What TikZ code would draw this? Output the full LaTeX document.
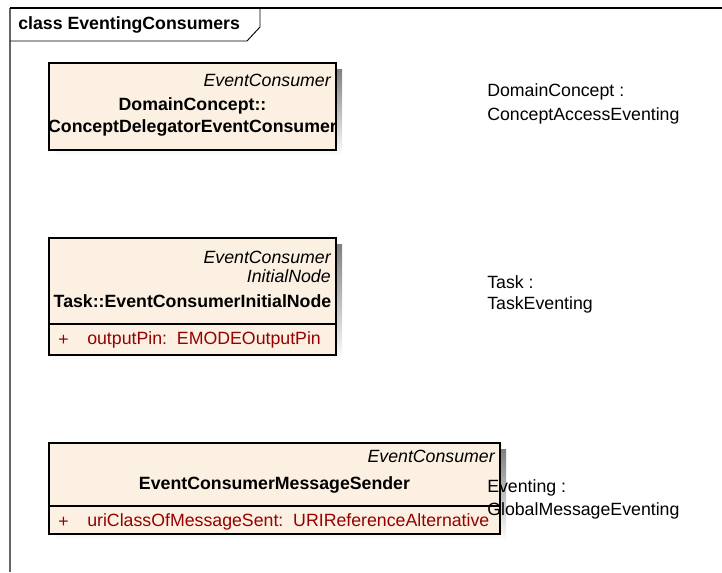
\documentclass[tikz,border=0pt]{standalone}
\usepackage{fontspec}
\setmainfont{Liberation Sans}
\usetikzlibrary{calc}

\definecolor{boxfill}{RGB}{251,240,226}
\definecolor{shade}{RGB}{200,200,200}
\definecolor{attrred}{RGB}{150,0,0}

\tikzset{
  every node/.style={inner sep=0pt,font=\fontsize{13.3}{15}\selectfont},
  stereo/.style={anchor=east,font=\fontsize{13.3}{15}\selectfont\itshape},
  cname/.style={font=\fontsize{13.3}{15}\selectfont\bfseries},
  attr/.style={anchor=west,text=attrred},
  note/.style={anchor=west},
  umlbox/.style={draw=black,line width=1pt,fill=boxfill},
}

\begin{document}
\begin{tikzpicture}[x=0.75pt,y=-0.75pt]
        \useasboundingbox (0,0) rectangle (722,572);
        % frame and its name tab
        \draw[line width=0.9pt,black!60] (10,572) -- (10,8);
        \draw[line width=0.9pt] (10,8) -- (722,8);
        \draw[line width=0.7pt] (10,41) -- (247,41) -- (260,27) -- (260,8);
        \node[anchor=west,font=\fontsize{13.3}{15}\selectfont\bfseries] (title) at (18,25) {class EventingConsumers};

        % first class
        \fill[shade] (55,69) rectangle (342,156);
        \draw[umlbox] (49,63) rectangle (336,150);
        \node[stereo] (st1) at (331,80) {EventConsumer};
        \node[cname] (cn1a) at (192.5,106) {DomainConcept::};
        \node[cname] (cn1b) at (192.5,128) {ConceptDelegatorEventConsumer};

        % second class
        \fill[shade] (55,244) rectangle (342,361);
        \draw[umlbox] (49,238) rectangle (336,355);
        \draw[line width=1pt] (49,324) -- (336,324);
        \node[stereo] (st2a) at (331,257) {EventConsumer};
        \node[stereo] (st2b) at (331,276) {InitialNode};
        \node[cname] (cn2) at (192.5,301) {Task::EventConsumerInitialNode};
        \node[attr] (plus2) at (58,340) {+};
        \node[attr] (at2) at (87,340) {outputPin:\ \ EMODEOutputPin};

        % third class
        \fill[shade] (55,449) rectangle (506,540);
        \draw[umlbox] (49,443) rectangle (500,534);
        \draw[line width=1pt] (49,506) -- (500,506);
        \node[stereo] (st3) at (495,456) {EventConsumer};
        \node[cname] (cn3) at (274.5,485) {EventConsumerMessageSender};
        \node[attr] (plus3) at (58,522) {+};
        \node[attr] (at3) at (87,522) {uriClassOfMessageSent:\ \ URIReferenceAlternative};

        % package notes on the right
        \node[note] (n1a) at (487,92) {DomainConcept :};
        \node[note] (n1b) at (487,116) {ConceptAccessEventing};
        \node[note] (n2a) at (487,282) {Task :};
        \node[note] (n2b) at (487,305) {TaskEventing};
        \node[note] (n3a) at (487,488) {Eventing :};
        \node[note] (n3b) at (487,511) {GlobalMessageEventing};
\end{tikzpicture}
\end{document}
